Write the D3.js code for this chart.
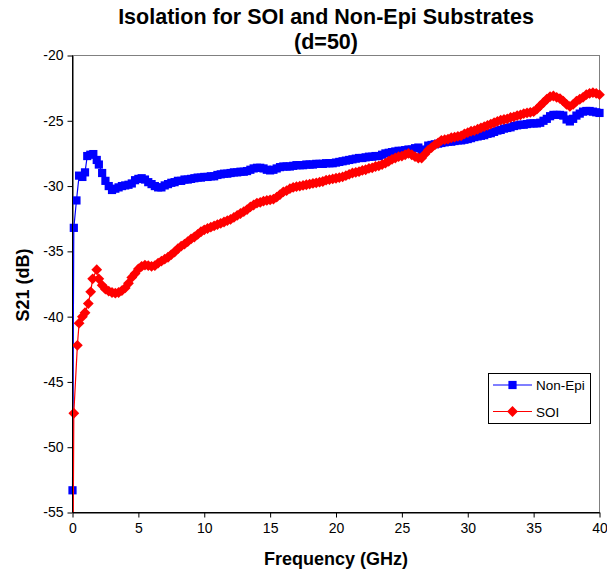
<!DOCTYPE html>
<html><head><meta charset="utf-8">
<script src="https://cdn.jsdelivr.net/npm/d3@7/dist/d3.min.js"></script>
<style>
body{margin:0;background:#fff}
text{font-family:Arial,"Liberation Sans",sans-serif;fill:#000}
</style>
</head><body>
<svg id="chart" width="607" height="571"></svg>
<script>
// ---------- data ----------
const titleLines = ["Isolation for SOI and Non-Epi Substrates", "(d=50)"];
const xTicks = [0, 5, 10, 15, 20, 25, 30, 35, 40];
const yTicks = [-55, -50, -45, -40, -35, -30, -25, -20];
const xLabel = "Frequency (GHz)";
const yLabel = "S21 (dB)";
const seriesNames = ["Non-Epi", "SOI"];

// common sweep frequencies (GHz)
const sweepFreq = [
 2,2.25,2.5,2.75, 3,3.25,3.5,3.75, 4,4.25,4.5,4.75, 5,5.25,5.5,5.75,
 6,6.25,6.5,6.75, 7,7.25,7.5,7.75, 8,8.25,8.5,8.75, 9,9.25,9.5,9.75,
 10,10.25,10.5,10.75, 11,11.25,11.5,11.75, 12,12.25,12.5,12.75, 13,13.25,13.5,13.75,
 14,14.25,14.5,14.75, 15,15.25,15.5,15.75, 16,16.25,16.5,16.75, 17,17.25,17.5,17.75,
 18,18.25,18.5,18.75, 19,19.25,19.5,19.75, 20,20.25,20.5,20.75, 21,21.25,21.5,21.75,
 22,22.25,22.5,22.75, 23,23.25,23.5,23.75, 24,24.25,24.5,24.75, 25,25.25,25.5,25.75,
 26,26.25,26.5,26.75, 27,27.25,27.5,27.75, 28,28.25,28.5,28.75, 29,29.25,29.5,29.75,
 30,30.25,30.5,30.75, 31,31.25,31.5,31.75, 32,32.25,32.5,32.75, 33,33.25,33.5,33.75,
 34,34.25,34.5,34.75, 35,35.25,35.5,35.75, 36,36.25,36.5,36.75, 37,37.25,37.5,37.75,
 38,38.25,38.5,38.75, 39,39.25,39.5,39.75, 40];

// Non-Epi
const nonEpiEarlyFreq = [0, 0.1, 0.3, 0.5, 0.75, 0.95, 1.12, 1.35, 1.58, 1.84];
const nonEpiEarlyS21  = [-53.3, -33.2, -31.1, -29.2, -29.3, -28.95, -27.7, -27.6, -27.55, -28.0];
const nonEpiSweepS21 = [
 -28.35,-29.0,-29.6,-30.0,  -30.3,-30.2,-30.1,-30.0,  -29.95,-29.9,-29.8,-29.55,  -29.45,-29.4,-29.5,-29.7,
 -29.85,-30.0,-30.1,-30.1,  -29.95,-29.85,-29.75,-29.7,  -29.6,-29.6,-29.5,-29.5,  -29.45,-29.4,-29.35,-29.35,
 -29.3,-29.3,-29.25,-29.25,  -29.15,-29.1,-29.05,-29.05,  -29.0,-28.95,-28.95,-28.9,  -28.9,-28.85,-28.75,-28.65,
 -28.6,-28.6,-28.65,-28.75,  -28.8,-28.75,-28.65,-28.55,  -28.5,-28.5,-28.5,-28.45,  -28.4,-28.4,-28.4,-28.35,
 -28.35,-28.35,-28.3,-28.3,  -28.3,-28.25,-28.25,-28.25,  -28.2,-28.15,-28.1,-28.05,  -28.0,-27.95,-27.9,-27.85,
 -27.85,-27.8,-27.75,-27.75,  -27.7,-27.7,-27.6,-27.5,  -27.45,-27.4,-27.35,-27.3,  -27.3,-27.25,-27.2,-27.2,
 -27.1,-27.05,-27.25,-27.2,  -26.9,-26.85,-26.8,-26.75,  -26.7,-26.65,-26.6,-26.6,  -26.55,-26.5,-26.5,-26.45,
 -26.4,-26.33,-26.25,-26.2,  -26.15,-26.1,-26.0,-25.95,  -25.85,-25.75,-25.7,-25.6,  -25.55,-25.5,-25.4,-25.35,
 -25.3,-25.3,-25.25,-25.2,  -25.2,-25.2,-25.15,-25.0,  -24.85,-24.65,-24.55,-24.55,  -24.55,-24.6,-24.9,-25.05,
 -24.85,-24.6,-24.45,-24.3,  -24.25,-24.25,-24.3,-24.35,  -24.4];

// SOI
const soiEarlyFreq = [0.02, 0.1, 0.37, 0.5, 0.75, 0.95, 1.2, 1.38, 1.53, 1.84];
const soiEarlyS21  = [-62, -47.4, -42.2, -40.5, -40.0, -39.7, -39.0, -38.1, -37.1, -36.4];
const soiSweepS21 = [
 -37.1,-37.6,-37.9,-38.05,  -38.15,-38.2,-38.15,-38.0,  -37.8,-37.45,-37.0,-36.7,  -36.35,-36.15,-36.05,-36.1,
 -36.15,-36.1,-35.9,-35.75,  -35.6,-35.45,-35.25,-35.05,  -34.8,-34.6,-34.45,-34.25,  -34.05,-33.9,-33.7,-33.5,
 -33.35,-33.25,-33.15,-33.05,  -32.95,-32.85,-32.75,-32.65,  -32.55,-32.4,-32.25,-32.1,  -31.95,-31.8,-31.6,-31.45,
 -31.3,-31.25,-31.15,-31.1,  -31.05,-31.0,-30.85,-30.65,  -30.45,-30.35,-30.2,-30.1,  -30.05,-30.0,-29.95,-29.9,
 -29.85,-29.8,-29.75,-29.7,  -29.65,-29.55,-29.5,-29.45,  -29.4,-29.35,-29.3,-29.2,  -29.1,-29.0,-28.95,-28.9,
 -28.8,-28.75,-28.65,-28.6,  -28.5,-28.45,-28.35,-28.25,  -28.1,-27.95,-27.85,-27.75,  -27.7,-27.6,-27.5,-27.6,
 -27.75,-27.85,-27.85,-27.55,  -27.25,-27.05,-26.85,-26.7,  -26.5,-26.45,-26.4,-26.3,  -26.25,-26.2,-26.15,-26.0,
 -25.9,-25.8,-25.75,-25.65,  -25.55,-25.45,-25.35,-25.25,  -25.15,-25.05,-24.95,-24.9,  -24.85,-24.75,-24.7,-24.6,
 -24.55,-24.45,-24.4,-24.35,  -24.3,-24.1,-23.85,-23.6,  -23.35,-23.15,-23.1,-23.2,  -23.3,-23.5,-23.75,-23.9,
 -23.75,-23.5,-23.35,-23.2,  -23.0,-22.9,-22.85,-22.9,  -23.0];

// ---------- build ----------
function pairs(f, v){ const n=Math.min(f.length,v.length); const out=[]; for(let i=0;i<n;i++) out.push({f:f[i], v:v[i]}); return out; }
const nonEpi = pairs(nonEpiEarlyFreq.concat(sweepFreq), nonEpiEarlyS21.concat(nonEpiSweepS21));
const soi    = pairs(soiEarlyFreq.concat(sweepFreq), soiEarlyS21.concat(soiSweepS21));

const L=72.5, R=599.5, T=55.5, B=512.5;
const svg = d3.select("#chart");
const x = d3.scaleLinear().domain([0,40]).range([L,R]);
const y = d3.scaleLinear().domain([-55,-20]).range([B,T]);

// plot area border (grey)
svg.append("rect").attr("x",L).attr("y",T).attr("width",R-L).attr("height",B-T)
  .attr("fill","#fff").attr("stroke","#808080").attr("stroke-width",1);

// axes
const gx = svg.append("g").attr("transform",`translate(0,${B})`)
  .call(d3.axisBottom(x).tickValues(xTicks).tickSize(5).tickSizeOuter(0).tickPadding(6).tickFormat(d=>String(d)));
const gy = svg.append("g").attr("transform",`translate(${L},0)`)
  .call(d3.axisLeft(y).tickValues(yTicks).tickSize(5).tickSizeOuter(0).tickPadding(4).tickFormat(d=>String(d)));
[gx,gy].forEach(g=>{
  g.selectAll("path.domain").attr("stroke","#000").attr("stroke-width",1);
  g.selectAll(".tick line").attr("stroke","#000");
  g.selectAll(".tick text").attr("font-size",14).attr("font-family","Arial, 'Liberation Sans', sans-serif").attr("fill","#000");
});

// clip
svg.append("defs").append("clipPath").attr("id","clip")
  .append("rect").attr("x",L-8).attr("y",T-8).attr("width",R-L+16).attr("height",B-T+8);

const line = d3.line().x(d=>x(d.f)).y(d=>y(d.v));
const plot = svg.append("g").attr("clip-path","url(#clip)");

const series = [
  {name:seriesNames[0], data:nonEpi, color:"#0000ff", shape:"square"},
  {name:seriesNames[1], data:soi, color:"#ff0000", shape:"diamond"}
];
const sq = 8.2, dm = 5.4;
function marker(g, shape, color, scale){
  const k = scale || 1;
  if(shape==="square"){
    const s = sq*k;
    return g.append("rect").attr("x",-s/2).attr("y",-s/2).attr("width",s).attr("height",s).attr("fill",color);
  }
  const d = dm*k;
  return g.append("path").attr("d",`M0,${-d}L${d},0L0,${d}L${-d},0Z`).attr("fill",color);
}
series.forEach(s=>{
  const g = plot.append("g");
  g.append("path").datum(s.data).attr("d",line).attr("fill","none").attr("stroke",s.color).attr("stroke-width",1.2);
  s.data.forEach(d=>{
    const mg = g.append("g").attr("transform",`translate(${x(d.f)},${y(d.v)})`);
    marker(mg, s.shape, s.color);
  });
});

// redraw left & bottom axis lines on top
svg.append("line").attr("x1",L).attr("x2",L).attr("y1",T).attr("y2",B).attr("stroke","#000");
svg.append("line").attr("x1",L).attr("x2",R).attr("y1",B).attr("y2",B).attr("stroke","#000");

// title
svg.append("text").attr("x",326).attr("y",24).attr("text-anchor","middle")
  .attr("font-size",21.5).attr("font-weight","bold").text(titleLines[0]);
svg.append("text").attr("x",326).attr("y",48.5).attr("text-anchor","middle")
  .attr("font-size",21.5).attr("font-weight","bold").text(titleLines[1]);

// axis titles
svg.append("text").attr("x",(L+R)/2).attr("y",565).attr("text-anchor","middle")
  .attr("font-size",18).attr("font-weight","bold").text(xLabel);
svg.append("text").attr("transform",`translate(28.5,${(T+B)/2+1}) rotate(-90)`).attr("text-anchor","middle")
  .attr("font-size",18).attr("font-weight","bold").text(yLabel);

// legend
const lg = svg.append("g").attr("transform","translate(488,373)");
lg.append("rect").attr("x",0.5).attr("y",0.5).attr("width",102).attr("height",50)
  .attr("fill","#fff").attr("stroke","#000").attr("stroke-width",1);
series.forEach((s,i)=>{
  const yy = 12 + i*26.5;
  lg.append("line").attr("x1",5).attr("x2",44).attr("y1",yy).attr("y2",yy).attr("stroke",s.color).attr("stroke-width",1.2);
  const mg = lg.append("g").attr("transform",`translate(24.5,${yy})`);
  marker(mg, s.shape, s.color, 1);
  lg.append("text").attr("x",48).attr("y",yy+5).attr("font-size",13.5).text(s.name);
});
</script>
</body></html>
